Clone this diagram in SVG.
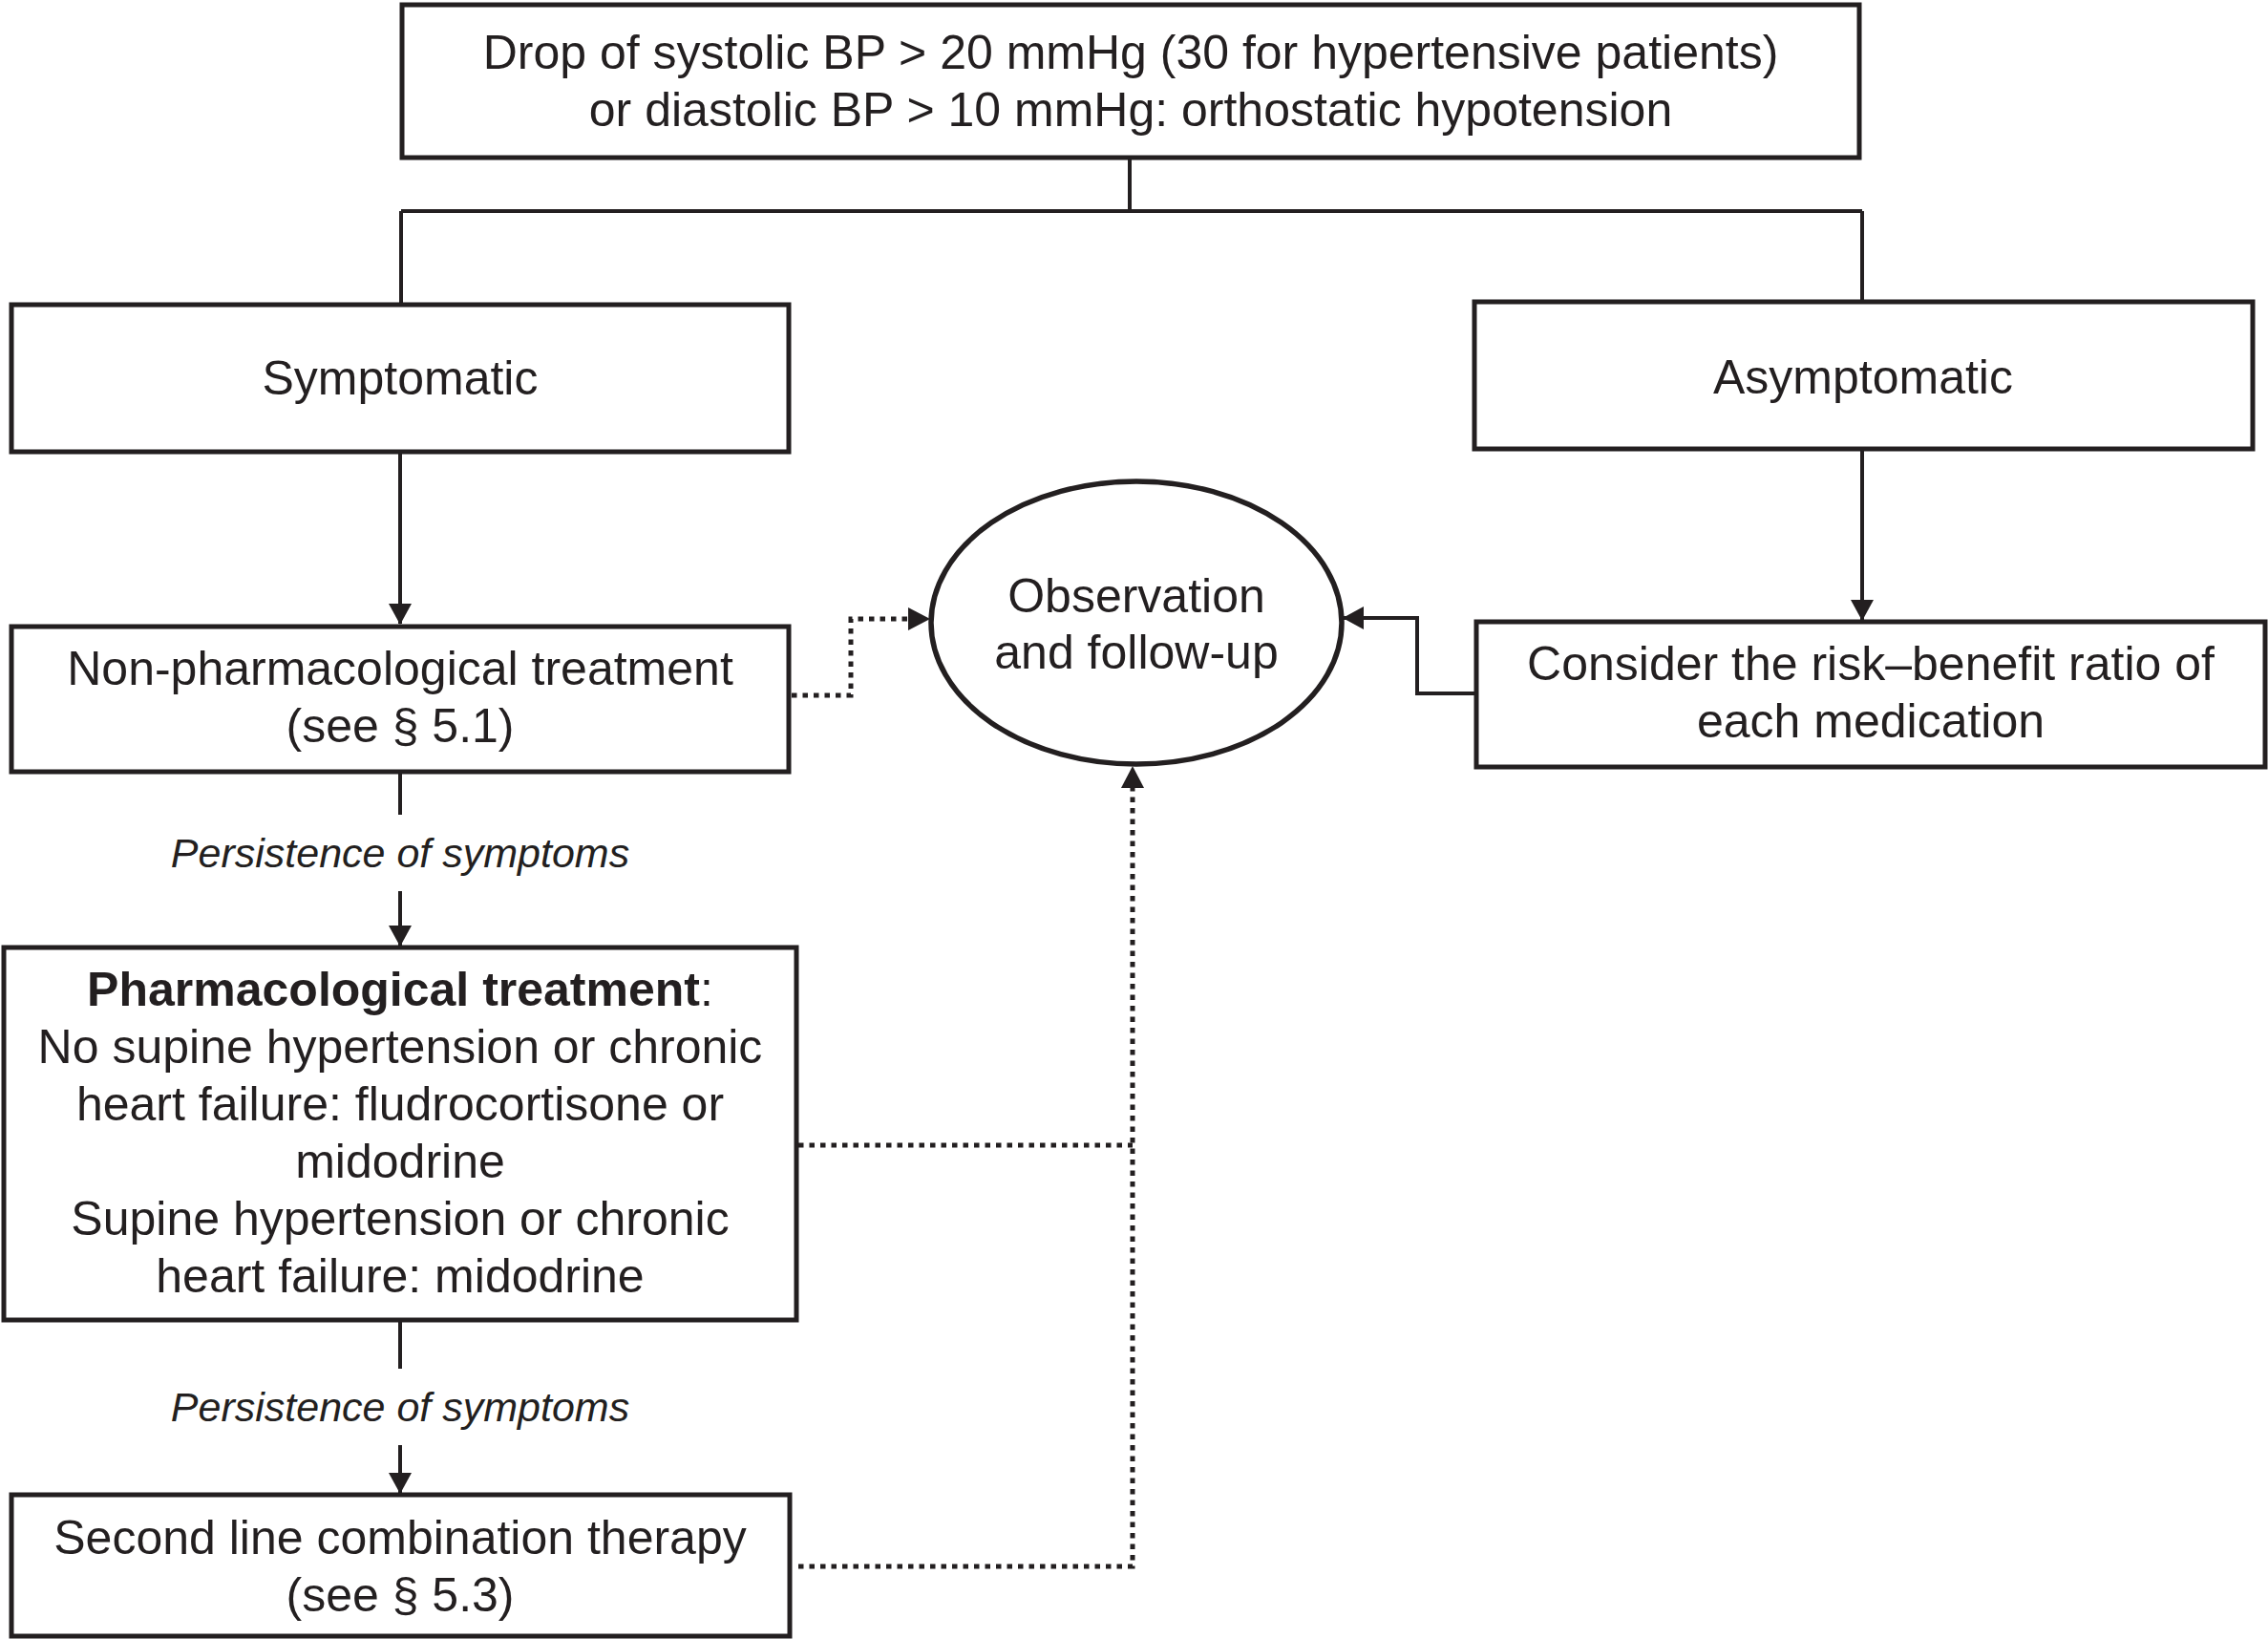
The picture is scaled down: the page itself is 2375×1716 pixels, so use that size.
<svg xmlns="http://www.w3.org/2000/svg" width="2375" height="1716" viewBox="0 0 2375 1716">
<style>
  .box { fill: #ffffff; stroke: #231f20; stroke-width: 5; }
  .ell { fill: #ffffff; stroke: #231f20; stroke-width: 5.5; }
  .t { font-family: "Liberation Sans", Arial, sans-serif; font-size: 50px; fill: #231f20; text-anchor: middle; }
  .b { font-weight: bold; }
  .lbl { font-family: "Liberation Sans", Arial, sans-serif; font-size: 43px; font-style: italic; fill: #231f20; text-anchor: middle; }
  .ln { fill: none; stroke: #231f20; stroke-width: 4; }
  .dot { fill: none; stroke: #231f20; stroke-width: 5; stroke-dasharray: 5.5 6; }
</style>
<defs>
  <marker id="ah" markerUnits="userSpaceOnUse" markerWidth="22" markerHeight="24" viewBox="0 0 22 24" refX="21" refY="12" orient="auto">
    <polygon points="0,0 22,12 0,24" fill="#231f20"/>
  </marker>
</defs>
<rect width="2375" height="1716" fill="#ffffff"/>
<g id="connectors">
  <path class="ln" d="M1183,166 V221 M420,221 H1950 M420,221 V318 M1950,221 V315"/>
  <path class="ln" d="M419,473 V653" marker-end="url(#ah)"/>
  <path class="ln" d="M1950,470 V649" marker-end="url(#ah)"/>
  <path class="ln" d="M419,808 V853"/>
  <path class="ln" d="M419,933 V990" marker-end="url(#ah)"/>
  <path class="ln" d="M419,1382 V1433"/>
  <path class="ln" d="M419,1513 V1563" marker-end="url(#ah)"/>
  <path class="ln" d="M1546,726 H1484 V647 H1407" marker-end="url(#ah)"/>
  <path class="dot" d="M829,728 H891 V648 H952"/>
  <polygon points="951,636 974,648 951,660" fill="#231f20"/>
  <path class="dot" d="M836,1199 H1186"/>
  <path class="dot" d="M836,1640 H1186 V825"/>
  <polygon points="1174,825 1186,802 1198,825" fill="#231f20"/>
</g>
<g id="top">
  <rect class="box" x="421" y="5" width="1526" height="160"/>
  <text class="t" x="1184" y="72">Drop of systolic BP &gt; 20 mmHg (30 for hypertensive patients)</text>
  <text class="t" x="1184" y="132">or diastolic BP &gt; 10 mmHg: orthostatic hypotension</text>
</g>
<g id="symptomatic">
  <rect class="box" x="12" y="319" width="814" height="154"/>
  <text class="t" x="419" y="413">Symptomatic</text>
</g>
<g id="asymptomatic">
  <rect class="box" x="1544" y="316" width="815" height="154"/>
  <text class="t" x="1951" y="412">Asymptomatic</text>
</g>
<g id="nonpharm">
  <rect class="box" x="12" y="656" width="814" height="152"/>
  <text class="t" x="419" y="717">Non-pharmacological treatment</text>
  <text class="t" x="419" y="777">(see § 5.1)</text>
</g>
<g id="observation">
  <ellipse class="ell" cx="1190" cy="652" rx="215" ry="148"/>
  <text class="t" x="1190" y="641">Observation</text>
  <text class="t" x="1190" y="700">and follow-up</text>
</g>
<g id="consider">
  <rect class="box" x="1546" y="651" width="826" height="152"/>
  <text class="t" x="1959" y="712">Consider the risk–benefit ratio of</text>
  <text class="t" x="1959" y="772">each medication</text>
</g>
<g id="label1">
  <text class="lbl" x="419" y="908">Persistence of symptoms</text>
</g>
<g id="pharm">
  <rect class="box" x="4" y="992" width="830" height="390"/>
  <text class="t" x="419" y="1053"><tspan class="b">Pharmacological treatment</tspan>:</text>
  <text class="t" x="419" y="1113">No supine hypertension or chronic</text>
  <text class="t" x="419" y="1173">heart failure: fludrocortisone or</text>
  <text class="t" x="419" y="1233">midodrine</text>
  <text class="t" x="419" y="1293">Supine hypertension or chronic</text>
  <text class="t" x="419" y="1353">heart failure: midodrine</text>
</g>
<g id="label2">
  <text class="lbl" x="419" y="1488">Persistence of symptoms</text>
</g>
<g id="second">
  <rect class="box" x="12" y="1565" width="815" height="148"/>
  <text class="t" x="419" y="1627">Second line combination therapy</text>
  <text class="t" x="419" y="1687">(see § 5.3)</text>
</g>
</svg>
